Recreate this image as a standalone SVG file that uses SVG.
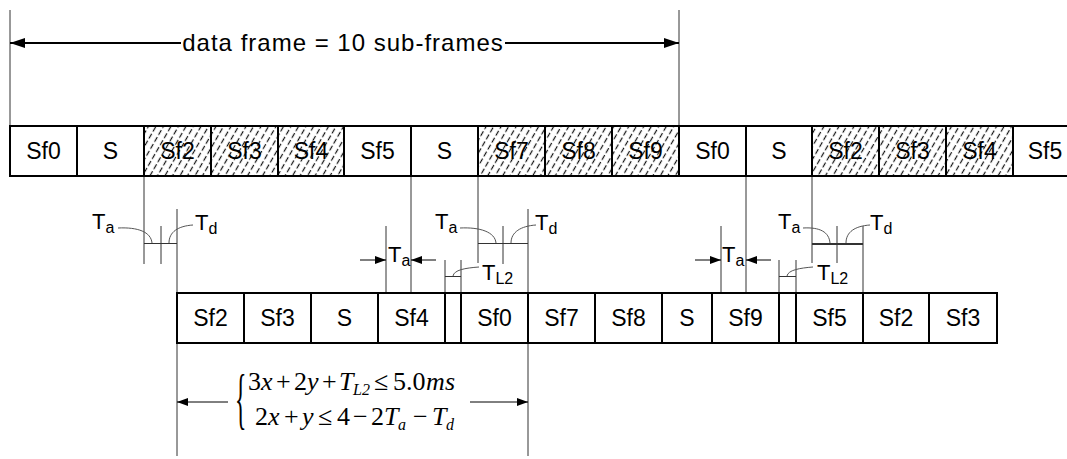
<svg xmlns="http://www.w3.org/2000/svg" width="1067" height="459" viewBox="0 0 1067 459">
<style>
.cell{fill:#fff;stroke:#000;stroke-width:2}
.hat{fill:url(#hatch);stroke:#000;stroke-width:2}
.lbl{font-family:"Liberation Sans",Arial,sans-serif;font-size:23px;text-anchor:middle;fill:#000}
.t{font-family:"Liberation Sans",Arial,sans-serif;font-size:22px;fill:#000}
.ttl{font-family:"Liberation Sans",Arial,sans-serif;font-size:24px;letter-spacing:1px;text-anchor:middle;fill:#000}
.sub{font-size:16px}
.thin{stroke:#333;stroke-width:1;fill:none}
.lead{stroke:#555;stroke-width:1;fill:none}
.arr{stroke:#000;stroke-width:1;fill:none}
.m{font-family:"Liberation Serif","Times New Roman",serif;font-size:26px;fill:#000}
.br{font-family:"Liberation Serif","Times New Roman",serif;font-size:68px;fill:#000}
.i{font-style:italic}
.ms{font-size:16px;font-style:italic}
</style>
<defs>
<pattern id="hatch" patternUnits="userSpaceOnUse" width="6.5" height="8" patternTransform="rotate(30)">
<line x1="3.25" y1="0" x2="3.25" y2="8" stroke="#111" stroke-width="1.2" stroke-dasharray="5.5 2.5"/>
</pattern>
<marker id="big" viewBox="0 0 15 10" refX="15" refY="5" markerWidth="15" markerHeight="10" markerUnits="userSpaceOnUse" orient="auto-start-reverse"><path d="M0,0 L15,5 L0,10 z" fill="#000"/></marker>
<marker id="sm" viewBox="0 0 11 8" refX="11" refY="4" markerWidth="11" markerHeight="8" markerUnits="userSpaceOnUse" orient="auto-start-reverse"><path d="M0,0 L11,4 L0,8 z" fill="#000"/></marker>
</defs>
<rect width="1067" height="459" fill="#fff"/>

<g id="connectors">
<line x1="10" y1="10" x2="10" y2="126" class="thin"/>
<line x1="679" y1="10" x2="679" y2="126" class="thin"/>
<line x1="181" y1="43" x2="10" y2="43" stroke="#000" stroke-width="2" marker-end="url(#big)"/>
<line x1="505" y1="43" x2="679" y2="43" stroke="#000" stroke-width="2" marker-end="url(#big)"/>

<line x1="144" y1="177" x2="144" y2="264" class="thin"/>
<line x1="161" y1="226" x2="161" y2="264" class="thin"/>
<line x1="177" y1="209" x2="177" y2="293" class="thin"/>
<line x1="144" y1="243.5" x2="177" y2="243.5" class="thin"/>
<path d="M118,228 C138,227 151,232 152,243" class="lead"/>
<path d="M193,225 C178,226 169,232 169,243" class="lead"/>

<line x1="386" y1="226" x2="386" y2="293" class="thin"/>
<line x1="411" y1="177" x2="411" y2="293" class="thin"/>
<line x1="360" y1="260" x2="386" y2="260" class="arr" marker-end="url(#sm)"/>
<line x1="436" y1="260" x2="411" y2="260" class="arr" marker-end="url(#sm)"/>

<line x1="445" y1="260" x2="445" y2="293" class="thin"/>
<line x1="461" y1="260" x2="461" y2="293" class="thin"/>
<line x1="445" y1="276.5" x2="461" y2="276.5" class="thin"/>
<path d="M453,276 C454,270 465,268 479,267" class="lead"/>

<line x1="478" y1="177" x2="478" y2="263" class="thin"/>
<line x1="503" y1="226" x2="503" y2="264" class="thin"/>
<line x1="528" y1="209" x2="528" y2="293" class="thin"/>
<line x1="478" y1="243.5" x2="528" y2="243.5" class="thin"/>
<path d="M460,228 C480,227 495,232 496,243" class="lead"/>
<path d="M536,225 C521,226 511,232 511,243" class="lead"/>

<line x1="721" y1="226" x2="721" y2="293" class="thin"/>
<line x1="746" y1="177" x2="746" y2="293" class="thin"/>
<line x1="695" y1="260" x2="721" y2="260" class="arr" marker-end="url(#sm)"/>
<line x1="771" y1="260" x2="746" y2="260" class="arr" marker-end="url(#sm)"/>

<line x1="779" y1="260" x2="779" y2="293" class="thin"/>
<line x1="796" y1="260" x2="796" y2="293" class="thin"/>
<line x1="779" y1="276.5" x2="796" y2="276.5" class="thin"/>
<path d="M787,276 C788,270 800,268 813,267" class="lead"/>

<line x1="812" y1="177" x2="812" y2="263" class="thin"/>
<line x1="837" y1="226" x2="837" y2="263" class="thin"/>
<line x1="863" y1="226" x2="863" y2="293" class="thin"/>
<line x1="812" y1="244" x2="863" y2="244" stroke="#333" stroke-width="2"/>
<path d="M803,228 C820,227 829,232 830,243" class="lead"/>
<path d="M870,225 C855,226 846,232 846,243" class="lead"/>

<line x1="177" y1="343" x2="177" y2="456" class="thin"/>
<line x1="528" y1="343" x2="528" y2="456" class="thin"/>
<line x1="228" y1="402" x2="177" y2="402" class="arr" marker-end="url(#sm)"/>
<line x1="470" y1="402" x2="528" y2="402" class="arr" marker-end="url(#sm)"/>
</g>

<g id="top-row">
<rect x="10" y="126" width="67" height="50" class="cell"/>
<rect x="77" y="126" width="67" height="50" class="cell"/>
<rect x="144" y="126" width="67" height="50" class="hat"/>
<rect x="211" y="126" width="67" height="50" class="hat"/>
<rect x="278" y="126" width="66" height="50" class="hat"/>
<rect x="344" y="126" width="67" height="50" class="cell"/>
<rect x="411" y="126" width="67" height="50" class="cell"/>
<rect x="478" y="126" width="67" height="50" class="hat"/>
<rect x="545" y="126" width="67" height="50" class="hat"/>
<rect x="612" y="126" width="67" height="50" class="hat"/>
<rect x="679" y="126" width="67" height="50" class="cell"/>
<rect x="746" y="126" width="66" height="50" class="cell"/>
<rect x="812" y="126" width="67" height="50" class="hat"/>
<rect x="879" y="126" width="67" height="50" class="hat"/>
<rect x="946" y="126" width="67" height="50" class="hat"/>
<rect x="1013" y="126" width="67" height="50" class="cell"/>
<text class="lbl" x="43.5" y="159">Sf0</text>
<text class="lbl" x="110.5" y="159">S</text>
<text class="lbl" x="177.5" y="159">Sf2</text>
<text class="lbl" x="244.5" y="159">Sf3</text>
<text class="lbl" x="311" y="159">Sf4</text>
<text class="lbl" x="377.5" y="159">Sf5</text>
<text class="lbl" x="444.5" y="159">S</text>
<text class="lbl" x="511.5" y="159">Sf7</text>
<text class="lbl" x="578.5" y="159">Sf8</text>
<text class="lbl" x="645.5" y="159">Sf9</text>
<text class="lbl" x="712.5" y="159">Sf0</text>
<text class="lbl" x="779" y="159">S</text>
<text class="lbl" x="845.5" y="159">Sf2</text>
<text class="lbl" x="912.5" y="159">Sf3</text>
<text class="lbl" x="979.5" y="159">Sf4</text>
<text class="lbl" x="1045" y="159">Sf5</text>
</g>

<g id="title">
<text class="ttl" x="343" y="51">data frame = 10 sub-frames</text>
</g>

<g id="bottom-row">
<rect x="177" y="293" width="67" height="50" class="cell"/>
<rect x="244" y="293" width="67" height="50" class="cell"/>
<rect x="311" y="293" width="67" height="50" class="cell"/>
<rect x="378" y="293" width="67" height="50" class="cell"/>
<rect x="445" y="293" width="16" height="50" class="cell"/>
<rect x="461" y="293" width="67" height="50" class="cell"/>
<rect x="528" y="293" width="67" height="50" class="cell"/>
<rect x="595" y="293" width="67" height="50" class="cell"/>
<rect x="662" y="293" width="50" height="50" class="cell"/>
<rect x="712" y="293" width="67" height="50" class="cell"/>
<rect x="779" y="293" width="17" height="50" class="cell"/>
<rect x="796" y="293" width="67" height="50" class="cell"/>
<rect x="863" y="293" width="66" height="50" class="cell"/>
<rect x="929" y="293" width="68" height="50" class="cell"/>
<text class="lbl" x="210.5" y="326">Sf2</text>
<text class="lbl" x="277.5" y="326">Sf3</text>
<text class="lbl" x="344.5" y="326">S</text>
<text class="lbl" x="411.5" y="326">Sf4</text>
<text class="lbl" x="494.5" y="326">Sf0</text>
<text class="lbl" x="561.5" y="326">Sf7</text>
<text class="lbl" x="628.5" y="326">Sf8</text>
<text class="lbl" x="687" y="326">S</text>
<text class="lbl" x="745.5" y="326">Sf9</text>
<text class="lbl" x="829.5" y="326">Sf5</text>
<text class="lbl" x="896" y="326">Sf2</text>
<text class="lbl" x="963" y="326">Sf3</text>
</g>

<g id="labels">
<text class="t" x="92" y="229">T<tspan class="sub" dy="4">a</tspan></text>
<text class="t" x="195" y="230">T<tspan class="sub" dy="4">d</tspan></text>
<text class="t" x="388" y="262">T<tspan class="sub" dy="4">a</tspan></text>
<text class="t" x="435" y="229">T<tspan class="sub" dy="4">a</tspan></text>
<text class="t" x="535" y="230">T<tspan class="sub" dy="4">d</tspan></text>
<text class="t" x="482" y="280">T<tspan class="sub" dy="4">L2</tspan></text>
<text class="t" x="722" y="262">T<tspan class="sub" dy="4">a</tspan></text>
<text class="t" x="778" y="229">T<tspan class="sub" dy="4">a</tspan></text>
<text class="t" x="870" y="230">T<tspan class="sub" dy="4">d</tspan></text>
<text class="t" x="817" y="280">T<tspan class="sub" dy="4">L2</tspan></text>
</g>

<g id="formula">
<text class="br" transform="translate(235,421) scale(0.35,1)">{</text>
<text class="m" y="390"><tspan x="248">3</tspan><tspan x="261" class="i">x</tspan><tspan x="276">+</tspan><tspan x="294">2</tspan><tspan x="307" class="i">y</tspan><tspan x="322">+</tspan><tspan x="339" class="i">T</tspan><tspan x="353" class="ms" dy="5">L2</tspan><tspan x="374" dy="-5">≤</tspan><tspan x="393">5.0</tspan><tspan x="426" class="i">m</tspan><tspan x="445" class="i">s</tspan></text>
<text class="m" y="425"><tspan x="255">2</tspan><tspan x="268" class="i">x</tspan><tspan x="284">+</tspan><tspan x="302" class="i">y</tspan><tspan x="318">≤</tspan><tspan x="337">4</tspan><tspan x="353">−</tspan><tspan x="371">2</tspan><tspan x="384" class="i">T</tspan><tspan x="398" class="ms" dy="5">a</tspan><tspan x="413" dy="-5">−</tspan><tspan x="432" class="i">T</tspan><tspan x="446" class="ms" dy="5">d</tspan></text>
</g>
</svg>
